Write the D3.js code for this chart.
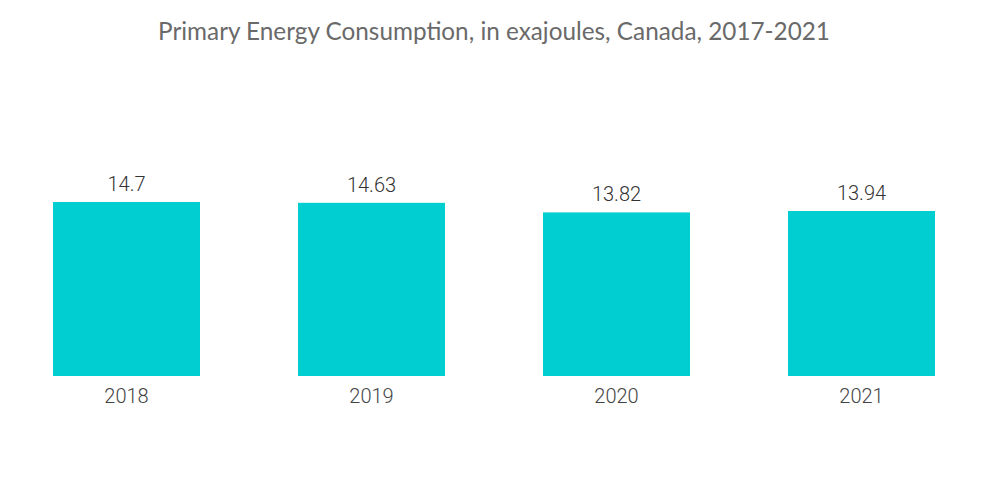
<!DOCTYPE html>
<html>
<head>
<meta charset="utf-8">
<script src="https://cdn.jsdelivr.net/npm/d3@7"></script>
<style>
  body { margin: 0; background: #fff; }
</style>
</head>
<body>
<div id="chart"></div>
<script>
var years = ['2018', '2019', '2020', '2021'];
var consumption = [14.7, 14.63, 13.82, 13.94];
var title = 'Primary Energy Consumption, in exajoules, Canada, 2017-2021';

var width = 1000, height = 504;
var barColor = '#00ced1';

var svg = d3.select('#chart').append('svg')
    .attr('width', width)
    .attr('height', height);

svg.append('text')
    .attr('x', 494)
    .attr('y', 40)
    .attr('text-anchor', 'middle')
    .style('font-family', 'Lato, sans-serif')
    .style('font-size', '24.3px')
    .style('fill', '#6a6a6a')
    .text(title);

var x = d3.scaleBand()
    .domain(years)
    .range([4, 984])
    .paddingInner(0.4)
    .paddingOuter(0.2);

var y = d3.scaleLinear()
    .domain([0, 14.7])
    .range([376, 202]);

svg.selectAll('rect.bar')
    .data(consumption)
    .enter().append('rect')
    .attr('class', 'bar')
    .attr('x', function(d, i) { return x(years[i]); })
    .attr('y', function(d) { return y(d); })
    .attr('width', x.bandwidth())
    .attr('height', function(d) { return y(0) - y(d); })
    .attr('fill', barColor);

svg.selectAll('text.value')
    .data(consumption)
    .enter().append('text')
    .attr('class', 'value')
    .attr('x', function(d, i) { return x(years[i]) + x.bandwidth() / 2; })
    .attr('y', function(d) { return y(d) - 11; })
    .attr('text-anchor', 'middle')
    .style('font-family', 'Roboto, sans-serif')
    .style('font-weight', 300)
    .style('font-size', '20px')
    .style('fill', '#333')
    .text(function(d) { return d; });

var xAxis = svg.append('g')
    .attr('transform', 'translate(0,376)')
    .call(d3.axisBottom(x).tickSize(0).tickPadding(13));
xAxis.select('.domain').remove();
xAxis.selectAll('text')
    .style('font-family', 'Roboto, sans-serif')
    .style('font-weight', 300)
    .style('font-size', '20px')
    .style('fill', '#444');
</script>
</body>
</html>
